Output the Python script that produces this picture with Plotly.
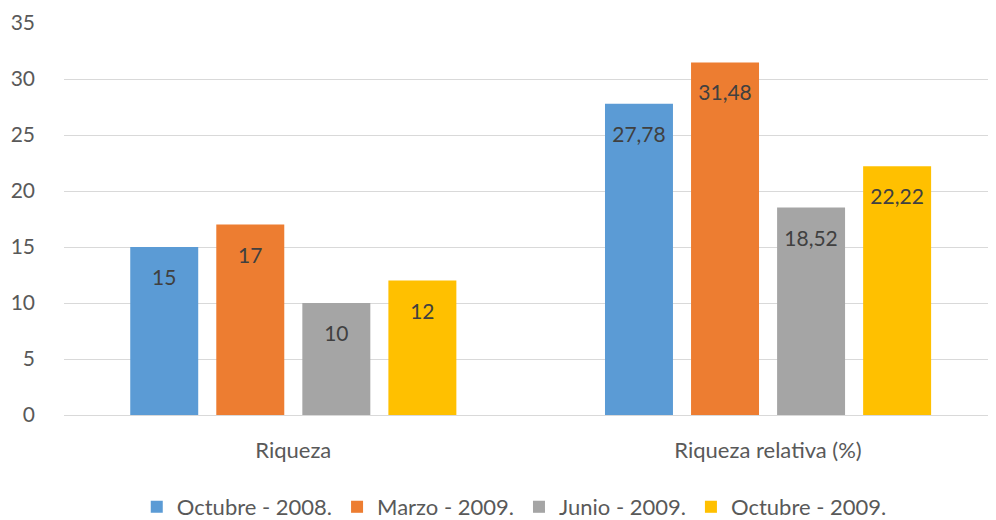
import plotly.graph_objects as go

categories = ["Riqueza", "Riqueza relativa (%)"]
series_names = ["Octubre - 2008.", "Marzo - 2009.", "Junio - 2009.", "Octubre - 2009."]
oct_2008 = [15, 27.78]
mar_2009 = [17, 31.48]
jun_2009 = [10, 18.52]
oct_2009 = [12, 22.22]
y_ticks = [0, 5, 10, 15, 20, 25, 30, 35]

colors = ["#5B9BD5", "#ED7D31", "#A5A5A5", "#FFC000"]
font_family = "Lato, 'Open Sans', sans-serif"


def fmt(v):
    # Spanish decimal comma
    s = f"{v:g}"
    return s.replace(".", ",")


fig = go.Figure()
all_series = [oct_2008, mar_2009, jun_2009, oct_2009]
for i, (name, vals, col) in enumerate(zip(series_names, all_series, colors)):
    fig.add_trace(
        go.Bar(
            x=categories,
            y=vals,
            name=name,
            offsetgroup=str(i),
            marker=dict(color=col, line=dict(width=0)),
        )
    )
# value labels sitting a bit below the top of each bar
for i, vals in enumerate(all_series):
    fig.add_trace(
        go.Scatter(
            x=categories,
            y=vals,
            mode="markers+text",
            offsetgroup=str(i),
            marker=dict(size=34, opacity=0),
            text=[fmt(v) for v in vals],
            textposition="bottom center",
            textfont=dict(size=21, color="#404040", family=font_family),
            showlegend=False,
            hoverinfo="skip",
        )
    )

fig.update_layout(
    width=996,
    height=520,
    margin=dict(l=56, r=0, t=15, b=103),
    plot_bgcolor="white",
    paper_bgcolor="white",
    barmode="group",
    scattermode="group",
    bargap=0.275,
    bargroupgap=0.21,
    scattergap=0.275,
    font=dict(family=font_family, size=20, color="#595959"),
    xaxis=dict(
        type="category",
        range=[-0.483, 1.497],
        automargin=False,
        showgrid=False,
        showline=False,
        ticks="",
        ticklabelstandoff=20,
        tickfont=dict(size=22, color="#595959"),
    ),
    yaxis=dict(
        range=[0, 35],
        tickvals=y_ticks,
        automargin=False,
        showgrid=True,
        gridcolor="#D9D9D9",
        gridwidth=1,
        zeroline=True,
        zerolinecolor="#D9D9D9",
        zerolinewidth=1,
        showline=False,
        ticks="",
        ticklabelstandoff=28,
        tickfont=dict(size=21, color="#595959"),
    ),
    legend=dict(
        orientation="h",
        x=0.479,
        xanchor="center",
        y=-0.235,
        yanchor="middle",
        font=dict(size=22, color="#595959"),
        itemwidth=30,
        traceorder="normal",
    ),
    showlegend=True,
)

fig.write_html("out.html")
